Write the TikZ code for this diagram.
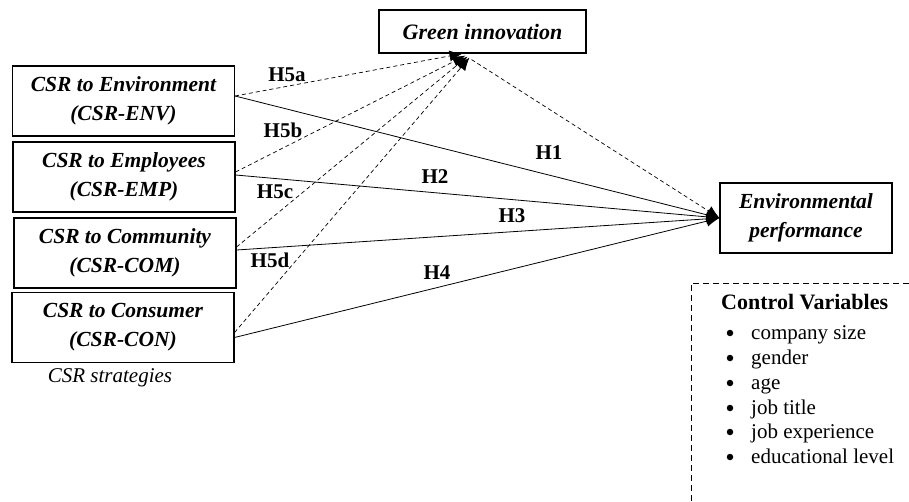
\documentclass[tikz,border=0pt]{standalone}
\usepackage{fontspec}
\setmainfont{Liberation Serif}
\usetikzlibrary{arrows.meta}
\begin{document}
\begin{tikzpicture}[x=1pt,y=-1pt,
  csrbox/.style={draw,line width=1.1pt,minimum width=222pt,minimum height=70pt,inner sep=0pt,align=center,font=\fontsize{21.5}{29}\selectfont\bfseries\itshape},
  hlab/.style={font=\fontsize{21}{24}\selectfont\bfseries,inner sep=0pt},
  ctext/.style={font=\fontsize{21}{24}\selectfont,inner sep=0pt,anchor=base west},
  bull/.style={circle,fill,inner sep=0pt,minimum size=6.5pt},
  solidarr/.style={line width=0.8pt,-{Latex[length=13pt,width=11pt]}},
  dasharr/.style={line width=0.7pt,dash pattern=on 4pt off 3pt,-{Latex[length=13pt,width=11pt]}}
]
\useasboundingbox (0,0) rectangle (909,502);
\fill[white] (0,0) rectangle (909,502);

\node[csrbox] (env) at (123.5,101) {CSR to Environment\\(CSR-ENV)};
\node[csrbox] (emp) at (124,177) {CSR to Employees\\(CSR-EMP)};
\node[csrbox] (com) at (125,253) {CSR to Community\\(CSR-COM)};
\node[csrbox] (con) at (123,327.5) {CSR to Consumer\\(CSR-CON)};
\node[font=\fontsize{21}{24}\selectfont\itshape,inner sep=0pt] (strat) at (110,378) {CSR strategies};

\node[draw,line width=1.1pt,minimum width=207pt,minimum height=43pt,inner sep=0pt,font=\fontsize{22}{24}\selectfont\bfseries\itshape] (gi) at (482.5,31.5) {Green innovation};
\node[draw,line width=1.1pt,minimum width=172pt,minimum height=70pt,inner sep=0pt,align=center,font=\fontsize{21.5}{29}\selectfont\bfseries\itshape] (ep) at (806,218) {Environmental\\performance};

% coordinates for arrow ends
\coordinate (gia) at ([xshift=-20pt]gi.south);
\coordinate (gib) at ([xshift=-17pt,yshift=-2pt]gi.south);
\coordinate (gic) at ([xshift=-15pt,yshift=-3pt]gi.south);
\coordinate (gid) at ([xshift=-13pt,yshift=-4pt]gi.south);
\coordinate (gie) at ([xshift=-11pt,yshift=-6pt]gi.south);

% H5 dashed arrows
\draw[dasharr] ([yshift=5pt]env.east) -- (gia);
\draw[dasharr] ([yshift=5pt]emp.east) -- (gib);
\draw[dasharr] ([yshift=6pt]com.east) -- (gic);
\draw[dasharr] ([yshift=-5pt]con.east) -- (gid);
% green innovation to environmental performance
\draw[dasharr] (gie) -- (ep.west);

% solid arrows
\draw[solidarr] ([yshift=5pt]env.east) -- (ep.west);
\draw[solidarr] ([yshift=2pt]emp.east) -- (ep.west);
\draw[solidarr] ([yshift=3pt]com.east) -- (ep.west);
\draw[solidarr] ([yshift=-10pt]con.east) -- (ep.west);

% labels
\node[hlab] (h5a) at (287,75) {H5a};
\node[hlab] (h5b) at (283,130) {H5b};
\node[hlab] (h5c) at (275,192) {H5c};
\node[hlab] (h5d) at (270,260) {H5d};
\node[hlab] (h1) at (549,153) {H1};
\node[hlab] (h2) at (435,177) {H2};
\node[hlab] (h3) at (512,216) {H3};
\node[hlab] (h4) at (437,273) {H4};

% control variables
\draw[line width=0.8pt,dash pattern=on 6pt off 4pt] (909,283) -- (691,283) -- (691,502);
\node[ctext,font=\fontsize{22}{24}\selectfont\bfseries] (cv) at (721,309) {Control Variables};
\foreach \y/\t/\n in {333/company size/c1,358/gender/c2,383/age/c3,408/job title/c4,432/job experience/c5,457/educational level/c6}{
  \node[bull] (b\n) at (730,\y) {};
  \node[ctext] (\n) at (751,\y+6) {\t};
}
\end{tikzpicture}
\end{document}
